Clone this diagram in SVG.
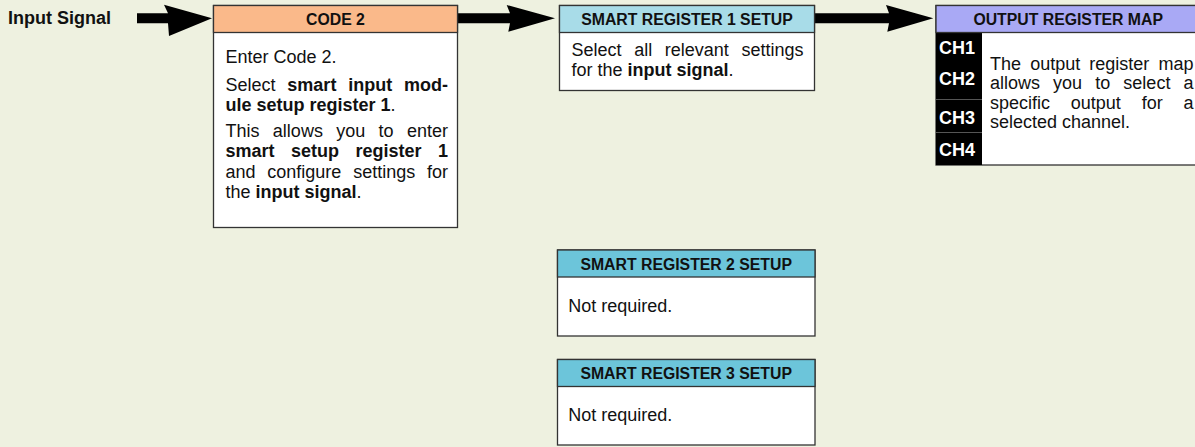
<svg xmlns="http://www.w3.org/2000/svg" width="1195" height="447" viewBox="0 0 1195 447">
<style>
.bg{fill:#EEF1E0}
.box{fill:#FFFFFF;stroke:#333333;stroke-width:1.3}
.hdr{stroke:#333333;stroke-width:1.3}
.ht{font-family:"Liberation Sans",Arial,sans-serif;font-weight:bold;font-size:15.8px;fill:#111;text-anchor:middle}
.bt{font-family:"Liberation Sans",Arial,sans-serif;font-size:18px;fill:#111}
.b{font-weight:bold}
.e{text-anchor:end}
.ch{font-family:"Liberation Sans",Arial,sans-serif;font-weight:bold;font-size:18px;fill:#FFFFFF}
.arrow{fill:#000000}
</style>
<rect class="bg" x="0" y="0" width="1195" height="447"/>

<g id="input-label">
<text class="bt b" x="8" y="24" font-size="20">Input Signal</text>
</g>

<g id="connectors">
<path class="arrow" d="M137,13.3 L168,13.3 L164,4.7 L212,18.3 L169,36 L168,23.3 L137,23.3 Z"/>
<path class="arrow" d="M458,13.3 L510,13.3 L506.7,5 L555,18.3 L508.3,31.7 L510,23.3 L458,23.3 Z"/>
<path class="arrow" d="M815,13.3 L889,13.3 L886,5 L933.3,18.3 L887.3,31.7 L889,23.3 L815,23.3 Z"/>
</g>

<g id="code2">
<rect class="box" x="213.5" y="5.5" width="244" height="222"/>
<rect class="hdr" x="213.5" y="5.5" width="244" height="27" fill="#FAB98A"/>
<text class="ht" x="335.5" y="25">CODE 2</text>
<text class="bt" x="225.5" y="63">Enter Code 2.</text>
<text class="bt" y="90.5"><tspan x="225.5">Select</tspan><tspan class="b" x="287.35">smart</tspan><tspan class="b" x="348.19">input</tspan></text>
<text class="bt b e" x="448" y="90.5">mod-</text>
<text class="bt" x="225.5" y="111"><tspan class="b">ule setup register 1</tspan>.</text>
<text class="bt" y="136.5"><tspan x="225.5">This</tspan><tspan x="272.86">allows</tspan><tspan x="336.22">you</tspan><tspan x="378.6">to</tspan></text>
<text class="bt e" x="448" y="136.5">enter</text>
<text class="bt b" y="157"><tspan x="225.5">smart</tspan><tspan x="290.99">setup</tspan><tspan x="355.48">register</tspan></text>
<text class="bt b e" x="448" y="157">1</text>
<text class="bt" y="177.5"><tspan x="225.5">and</tspan><tspan x="267.32">configure</tspan><tspan x="353.15">settings</tspan></text>
<text class="bt e" x="448" y="177.5">for</text>
<text class="bt" x="225.5" y="198">the <tspan class="b">input signal</tspan>.</text>
</g>

<g id="smart-register-1">
<rect class="box" x="559.5" y="5.5" width="255" height="85"/>
<rect class="hdr" x="559.5" y="5.5" width="255" height="27" fill="#A8DCE8"/>
<text class="ht" x="687" y="25">SMART REGISTER 1 SETUP</text>
<text class="bt" y="56"><tspan x="571.5">Select</tspan><tspan x="634.16">all</tspan><tspan x="664.8">relevant</tspan></text>
<text class="bt e" x="803.5" y="56">settings</text>
<text class="bt" x="571.5" y="76">for the <tspan class="b">input signal</tspan>.</text>
</g>

<g id="output-register-map">
<rect class="box" x="936" y="5.5" width="265" height="159.5"/>
<rect x="936" y="32.5" width="46" height="132.5" fill="#000000"/>
<line x1="936" y1="99.5" x2="982" y2="99.5" stroke="#555" stroke-width="1"/>
<line x1="936" y1="132.5" x2="982" y2="132.5" stroke="#555" stroke-width="1"/>
<rect class="hdr" x="936" y="5.5" width="265" height="27" fill="#A9A9F5"/>
<text class="ht" x="1068.2" y="25">OUTPUT REGISTER MAP</text>
<text class="ch" x="939" y="54">CH1</text>
<text class="ch" x="939" y="85">CH2</text>
<text class="ch" x="939" y="124">CH3</text>
<text class="ch" x="939" y="156">CH4</text>
<text class="bt" y="69.5"><tspan x="990">The</tspan><tspan x="1030.15">output</tspan><tspan x="1089.33">register</tspan></text>
<text class="bt e" x="1193.5" y="69.5">map</text>
<text class="bt" y="89"><tspan x="990">allows</tspan><tspan x="1053.11">you</tspan><tspan x="1095.24">to</tspan><tspan x="1123.36">select</tspan></text>
<text class="bt e" x="1193.5" y="89">a</text>
<text class="bt" y="108.5"><tspan x="990">specific</tspan><tspan x="1070.82">output</tspan><tspan x="1141.67">for</tspan></text>
<text class="bt e" x="1193.5" y="108.5">a</text>
<text class="bt" x="990" y="128">selected channel.</text>
</g>

<g id="smart-register-2">
<rect class="box" x="557.5" y="250" width="257.5" height="86"/>
<rect class="hdr" x="557.5" y="250" width="257.5" height="27" fill="#6CC5DA"/>
<text class="ht" x="686.2" y="269.5">SMART REGISTER 2 SETUP</text>
<text class="bt" x="568.3" y="311.5">Not required.</text>
</g>

<g id="smart-register-3">
<rect class="box" x="557.5" y="359.5" width="257.5" height="85.5"/>
<rect class="hdr" x="557.5" y="359.5" width="257.5" height="27" fill="#6CC5DA"/>
<text class="ht" x="686.2" y="379">SMART REGISTER 3 SETUP</text>
<text class="bt" x="568.3" y="421">Not required.</text>
</g>
</svg>
